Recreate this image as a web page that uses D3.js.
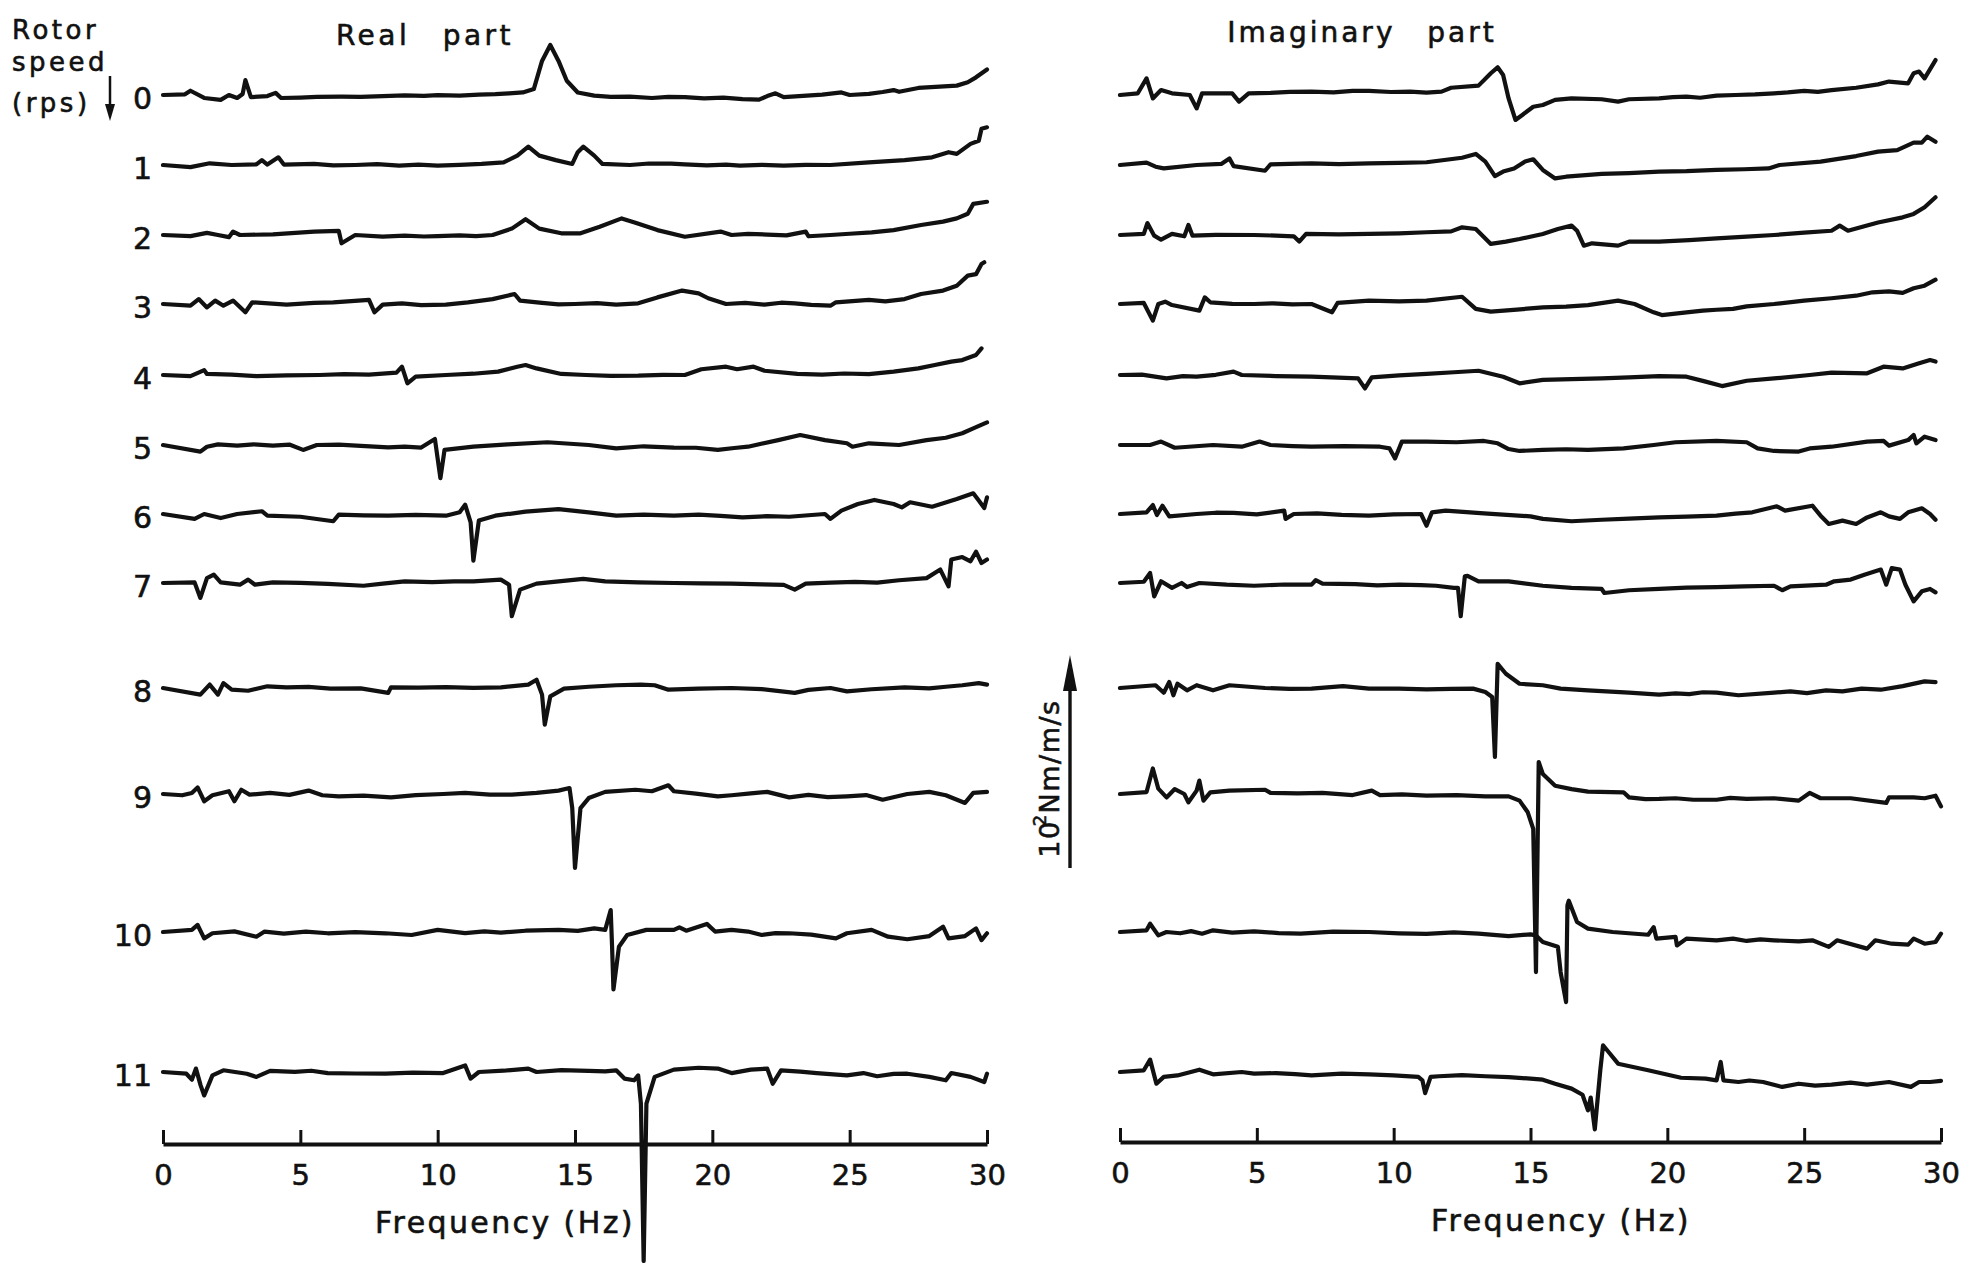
<!DOCTYPE html>
<html>
<head>
<meta charset="utf-8">
<script src="https://cdn.jsdelivr.net/npm/d3@7"></script>
<style>
  body { margin: 0; background: #fff; }
  svg text { font-family: 'DejaVu Sans', sans-serif; fill: #111; stroke: #111; stroke-width: 0.6px; }
</style>
</head>
<body>
<div id="chart"></div>
<script>
// rotor speeds (rps), one trace per speed in each panel
const speeds = [0, 1, 2, 3, 4, 5, 6, 7, 8, 9, 10, 11];
const freqTicks = [0, 5, 10, 15, 20, 25, 30];

// real part traces: [frequency Hz, value Nm/m/s]
const real0 = [[0,0],[0.8,0.3],[1.0,2],[1.5,-1.4],[2.1,-2.3],[2.4,0],[2.7,-1.4],[2.9,0.5],[3.0,7],[3.2,-1],[3.8,-0.5],[4.1,1],[4.3,-1.4],[5,-1.2],[5.6,-0.9],[6.5,-0.8],[7.2,-0.9],[8,-0.5],[8.8,-0.2],[9.5,-0.4],[10,-0.1],[10.8,-0.3],[11.5,0.2],[12.1,0.4],[12.6,0.8],[13.1,1.2],[13.5,2.8],[13.8,16],[14.1,23.5],[14.4,16],[14.7,6.7],[15.1,1.2],[15.7,-0.3],[16.3,-0.9],[17,-0.8],[17.8,-1.4],[18.4,-0.9],[19,-1],[19.7,-1.6],[20.4,-1.2],[21.1,-1.9],[21.7,-2.2],[22,-0.5],[22.3,0.8],[22.6,-1],[23.3,-0.4],[24,0.2],[24.7,1.2],[25,0],[25.7,0.5],[26.2,1.4],[26.6,2.3],[26.8,1.5],[27.5,3.3],[28.9,4.4],[29.3,6],[29.6,8.3],[30,12]];
const real1 = [[0,0],[1.0,-1],[1.7,0.8],[2.5,0],[3.4,0.3],[3.6,2.3],[3.8,0.2],[4.2,3.6],[4.4,0.2],[5.5,0.5],[6.2,-0.2],[7,0],[7.8,0.4],[8.6,-0.3],[9.3,0.2],[10,-0.3],[10.8,0.1],[11.6,0.5],[12.4,1.2],[12.9,4.4],[13.3,8.6],[13.7,4.4],[14.3,2.3],[14.9,0.5],[15.1,6],[15.3,8.6],[15.7,4.4],[16.0,0.5],[17,0],[17.7,0.7],[18.5,0.6],[19,0.3],[19.8,-0.2],[20.5,0.2],[21,-0.3],[21.8,0.1],[22.6,-0.3],[23.4,0.1],[24.3,0],[25.7,1.2],[27,2.3],[28,3.6],[28.6,6],[28.9,5.2],[29.4,9.9],[29.7,11.4],[29.8,17],[30,17.7]];
const real2 = [[0,0],[1.0,-0.5],[1.6,1],[2.0,0],[2.4,-1],[2.55,1.6],[2.8,0],[4,0.3],[5.5,1.6],[6.4,1.9],[6.5,-3.9],[7.0,0],[8,-0.8],[8.8,-0.3],[9.5,-0.7],[10,-0.5],[10.8,-0.2],[11.4,-0.5],[12,0],[12.7,3],[13.2,7.4],[13.7,3],[14.5,0.8],[15.2,0.8],[15.9,3.9],[16.7,7.8],[17.2,5.8],[18,2.3],[19,-0.8],[20.3,1.6],[20.7,0],[21.3,0.5],[22,0.2],[22.7,-0.2],[23.4,1.6],[23.5,-0.6],[24.3,0],[25,0.6],[25.8,1.2],[26.6,2.3],[27.6,4.7],[28.4,6.3],[28.9,7.8],[29.3,10],[29.5,14.6],[30,15.6]];
const real3 = [[0,0],[1.0,-0.8],[1.3,2.3],[1.6,-1.6],[1.9,1.6],[2.2,-0.8],[2.55,1.6],[3.0,-3.9],[3.25,0.8],[4.5,-0.3],[5.5,0.5],[6.2,0.8],[7.5,1.9],[7.7,-3.9],[8.0,-0.3],[8.7,0.3],[9.4,-0.5],[10.3,-0.3],[11.1,0.8],[12.0,2.3],[12.8,4.7],[13.0,1.6],[13.8,0.5],[14.4,-0.2],[15,0],[15.8,0.4],[16.5,-0.3],[17.3,0.3],[18,3.1],[18.9,6.3],[19.5,5],[19.85,2.7],[20.5,0],[21.2,0.5],[21.9,-0.3],[22.5,0.6],[23,0.3],[23.6,-0.4],[24.3,-0.8],[24.5,0.8],[25.7,1.9],[26.3,1.2],[27,2.3],[27.6,4.7],[28.4,6.3],[28.9,8.6],[29.3,13.3],[29.6,14],[29.8,18.8],[29.9,19.6]];
const real4 = [[0,0],[1.0,-0.5],[1.5,2.3],[1.6,0.5],[2.5,0.2],[3.4,-0.5],[4.5,-0.2],[5.7,0],[6.6,0.4],[7.5,0.2],[8.5,1.1],[8.7,3.9],[8.9,-3.9],[9.2,-0.8],[10.3,0],[11.3,0.6],[12.2,1.6],[12.9,3.9],[13.2,4.7],[13.6,3.1],[14.5,0.5],[15.4,0],[16.3,-0.4],[17.3,-0.3],[18.2,0.1],[19,0],[19.6,2.7],[20.5,3.9],[20.9,2.7],[21.5,3.9],[21.9,2],[23.1,0.5],[24,0.2],[24.8,0.7],[25.7,0.4],[26.6,1.6],[27.5,3.1],[28.1,4.7],[28.7,6.3],[29.1,7],[29.6,9.4],[29.8,12.5]];
const real5 = [[0,0],[1.36,-3.1],[1.6,-0.8],[2.0,0.3],[2.7,-0.3],[3.3,0.3],[4,-0.3],[4.6,0.2],[5.1,-2.3],[5.6,0],[6.4,0.2],[7.2,-0.4],[8.2,-1.1],[8.8,-0.8],[9.4,-1.2],[9.9,2.8],[10.1,-15.6],[10.25,-2.3],[11.3,-0.8],[12.55,0.3],[14.0,1.3],[15.5,0],[16.5,-1.6],[17.5,-0.6],[18.6,-1.2],[19.4,-1.3],[20.2,-2.3],[20.8,-1.4],[21.3,-0.8],[22.4,2.3],[23.2,4.7],[24.1,2.3],[24.9,0.8],[25.1,-0.8],[25.7,0.8],[26.8,0],[27.8,2.3],[28.5,3.4],[29.1,5.5],[29.5,7.8],[30,10.6]];
const real6 = [[0,0],[1.15,-2.3],[1.5,0],[2.1,-1.9],[2.7,0],[3.6,1.3],[3.8,-0.8],[5,-1.3],[6.2,-3.4],[6.4,-0.3],[7.3,-0.6],[8.2,-0.8],[9.2,-0.4],[10.3,-0.8],[10.8,0.8],[11.0,4.4],[11.2,-3.9],[11.3,-21.9],[11.5,-3.1],[12.1,-0.8],[13.2,1.1],[14.4,2.3],[15.5,0.8],[16.5,-0.8],[17.5,-0.3],[18.6,-0.8],[19.5,-0.3],[20.3,-0.9],[21.1,-1.6],[22,-1.0],[22.8,-1.3],[23.5,-0.6],[24.1,0],[24.3,-2.3],[24.7,1.6],[25.3,4.7],[25.9,6.6],[26.6,4.7],[26.9,3.1],[27.2,5.5],[28.0,3.4],[28.9,7],[29.5,9.7],[29.7,6.3],[29.9,2.8],[30,7.8]];
const real7 = [[0,0],[1.15,0.3],[1.36,-7],[1.6,2.3],[1.85,3.9],[2.1,0.3],[2.8,-0.8],[3.1,1.6],[3.35,-0.8],[4,0.3],[5,0.1],[6,-0.4],[7.3,-1.3],[8,-0.3],[8.8,0.8],[9.8,0.4],[10.6,0.8],[11.3,0.8],[12.3,1.6],[12.6,-0.8],[12.7,-15.6],[13.0,-3.1],[13.6,-0.3],[15.3,1.9],[16.1,0.8],[17.3,0.3],[18.6,0],[19.6,-0.2],[20.7,-0.3],[21.8,-0.6],[22.6,-0.9],[23.0,-3.1],[23.4,-0.3],[24.3,0.2],[25.2,0.5],[26,0.2],[26.8,1.3],[27.8,2.3],[28.3,6.3],[28.6,-1.6],[28.7,11],[29.1,12.2],[29.4,10.2],[29.6,14.7],[29.8,9.4],[30,11]];
const real8 = [[0,0],[1.36,-3.1],[1.7,1.6],[2.0,-3.1],[2.2,2.3],[2.5,-0.8],[3.1,-1.3],[3.8,0.8],[4.5,0.3],[5.3,0.5],[6.1,-0.3],[7.2,-0.2],[8.2,-2.3],[8.3,0.3],[9.3,0.2],[10.3,0.4],[11.3,0.1],[12.3,0.3],[13.3,1.6],[13.6,3.9],[13.8,-3.1],[13.9,-17.2],[14.1,-3.9],[14.6,-0.3],[15.5,0.6],[16.5,1.3],[17.4,1.6],[17.9,1.3],[18.4,-0.8],[19.5,-0.3],[20.7,0],[21.8,-0.5],[23.0,-2.3],[23.5,-0.9],[24.3,0],[24.9,-1.6],[25.8,-0.6],[27.0,0.3],[27.9,-0.2],[28.5,0.6],[29.1,1.3],[29.7,2.3],[30,1.6]];
const real9 = [[0,0],[0.7,-0.6],[1.05,0.5],[1.26,3.1],[1.5,-3.4],[1.8,-0.6],[2.4,1.3],[2.6,-3.4],[2.85,2],[3.15,-0.3],[3.9,0.5],[4.6,-0.4],[5.3,1.6],[5.8,-0.6],[6.4,-1.1],[7.3,-0.8],[8.3,-1.6],[9.2,-0.5],[10.2,0],[11,0.5],[11.9,-0.3],[12.7,-0.3],[13.6,0.5],[14.4,1.6],[14.8,2.8],[14.9,-6.6],[15.0,-34.7],[15.2,-6.6],[15.5,-1.9],[16.1,1],[17.2,2],[17.8,1.3],[18.4,4.1],[18.6,1.3],[19.4,0.2],[20.2,-1.1],[20.7,-0.6],[21.4,0.3],[22.0,1],[22.8,-1.6],[23.5,-0.4],[24.2,-1.5],[24.9,-1.1],[25.6,-0.5],[26.2,-2.7],[27.1,0],[27.9,1],[28.5,-0.6],[29.2,-4.2],[29.5,0.5],[30,1]];
const real10 = [[0,0],[1.05,1],[1.26,3.3],[1.5,-3],[1.8,-0.6],[2.6,0.3],[3.4,-2.2],[3.7,0.2],[4.4,-0.8],[5.2,0.2],[6.0,-0.6],[7,-0.1],[8.1,-0.6],[9.05,-1.4],[10.0,1],[11,-0.5],[11.7,0.3],[12.3,-0.3],[13.2,0.6],[14.4,1],[15.1,0.5],[15.7,1.7],[16.1,1],[16.3,10.3],[16.35,-6.9],[16.4,-27],[16.6,-6.9],[16.9,-1.4],[17.6,1],[18.6,1],[18.8,2.2],[19.05,0.6],[19.8,3.8],[20.1,0.2],[20.7,1],[21.3,0.2],[21.8,-1.4],[22.3,-0.5],[22.8,-0.6],[23.6,-1.2],[24.5,-3],[24.9,-0.6],[25.8,1],[26.4,-2.2],[27.1,-3.4],[27.9,-1.9],[28.4,2.5],[28.6,-3],[29.2,-1.9],[29.6,1.7],[29.8,-3.8],[30,-0.6]];
const real11 = [[0,0],[0.85,-0.8],[1.05,-3.6],[1.2,1.6],[1.37,-6.3],[1.5,-11],[1.8,-1.6],[2.2,0.8],[3.05,-0.8],[3.4,-2.3],[3.9,0.5],[4.8,0.1],[5.4,0.6],[6.0,-0.5],[7,-0.7],[8.1,-0.8],[9.1,-0.3],[10.2,-0.5],[11.0,3.1],[11.2,-3.1],[11.5,0],[12.4,0.6],[13.3,1.6],[13.6,0],[14.5,0.9],[15.5,0.5],[16.1,0.3],[16.5,0.8],[16.8,-3.1],[17.15,-3.9],[17.3,-1.6],[17.4,-14.9],[17.5,-88.7],[17.6,-14.9],[17.9,-2.3],[18.6,1.1],[19.5,2],[20.2,1.6],[20.7,-0.5],[21.4,1.1],[22.0,1.6],[22.2,-5.5],[22.5,0.8],[23.2,0.2],[23.8,-0.5],[24.9,-1.6],[25.5,-0.5],[26.0,-2],[26.6,-0.9],[27.1,-0.8],[27.9,-2.3],[28.5,-3.9],[28.7,-0.5],[29.4,-2.3],[29.9,-4.7],[30,-0.8]];

// imaginary part traces
const imag0 = [[0,0],[0.65,0.8],[0.97,7.8],[1.2,-1.6],[1.5,2.3],[1.9,0.8],[2.55,0],[2.8,-6.3],[3.0,0.8],[4.1,0.8],[4.35,-3.1],[4.7,0.8],[5.5,1],[6.2,1.5],[7.0,1.6],[7.8,1.2],[8.5,1.9],[9.1,1.9],[9.9,1.4],[10.6,1.6],[11.2,1.1],[11.75,1.6],[12.1,3.4],[13.1,4.4],[13.55,10.2],[13.8,13],[14.0,9.4],[14.2,-1.6],[14.45,-11.7],[14.7,-9.4],[15.1,-5.5],[15.45,-4.7],[15.9,-2.3],[16.5,-1.6],[17.6,-2],[18.2,-3.1],[18.6,-2],[19.7,-1.6],[20.2,-1.0],[20.7,-0.8],[21.2,-1.3],[21.8,-0.3],[22.5,0],[23.2,0.3],[23.9,0.8],[24.4,1.2],[25.0,1.9],[25.5,1.5],[26.0,2.3],[26.9,3.4],[27.7,5],[28.1,6.3],[28.8,5.5],[29.0,10.2],[29.2,11],[29.4,7.8],[29.8,16.4]];
const imag1 = [[0,0],[0.97,1.1],[1.3,-0.8],[1.6,-1.6],[2.8,0],[3.7,0.5],[4.0,3.1],[4.15,-0.5],[5.3,-2.7],[5.5,0.3],[6.2,0.5],[7.0,0.8],[8,0.4],[9.1,0.8],[10.2,1.0],[11.2,1.3],[12.5,3.4],[13.0,5.2],[13.35,1.6],[13.7,-5.2],[14.0,-3.1],[14.4,-1.6],[14.8,1.6],[15.1,2.7],[15.45,-2.3],[15.9,-6.3],[16.3,-5.5],[17.6,-4.2],[18.6,-3.8],[19.7,-3.1],[20.7,-2.9],[21.8,-2.3],[22.8,-2],[23.7,-1.6],[24.1,0],[25.6,1.6],[26.9,4.2],[27.7,6.3],[28.4,7],[29.0,10.5],[29.3,10.5],[29.5,13.3],[29.8,10.9]];
const imag2 = [[0,0],[0.87,0.5],[1.0,5.6],[1.25,-0.3],[1.5,-2.2],[1.9,0.5],[2.35,-0.6],[2.5,4.7],[2.65,-0.3],[3.5,0.1],[4.9,0],[5.7,-0.3],[6.35,-0.6],[6.55,-3.1],[6.8,0.5],[8,0.3],[9.1,0.5],[10.2,0.8],[11.2,1.3],[12.1,1.7],[12.5,3.6],[13.0,2.8],[13.55,-4.2],[14.1,-3.1],[14.6,-1.9],[15.45,0.5],[16.0,2.8],[16.5,4.4],[16.7,2],[16.95,-5],[17.25,-3.9],[18.2,-5],[18.6,-3.1],[19.7,-3.1],[20.8,-2.4],[21.8,-1.6],[22.9,-0.8],[23.9,0],[25,1.1],[26.0,2],[26.3,4.4],[26.6,2],[27.7,5.9],[28.6,8.3],[29.0,9.9],[29.4,13],[29.8,17.7]];
const imag3 = [[0,0],[0.87,0.5],[1.2,-7.8],[1.4,0],[1.65,1.1],[1.9,-0.5],[2.9,-3.1],[3.1,3.1],[3.3,0.8],[4.1,0.1],[4.9,0],[5.6,0.3],[6.3,-0.2],[7.0,0],[7.75,-3.9],[7.95,0.5],[9.1,1.6],[10.2,1.2],[11.2,1.6],[12.5,3.4],[13.0,-2.3],[13.55,-3.6],[14.5,-2.6],[15.45,-1.6],[16.3,-1.2],[17.1,-0.5],[18.2,1.6],[18.8,0],[19.5,-3.9],[19.8,-5.2],[20.7,-3.9],[21.3,-3.1],[21.8,-2.7],[22.4,-2.3],[22.9,-1.1],[23.9,0],[25.0,1.6],[26.0,2.7],[26.9,3.9],[27.5,5.5],[28.1,5.9],[28.6,5.2],[29.0,7.4],[29.4,8.6],[29.8,11.4]];
const imag4 = [[0,0],[0.8,0.2],[1.7,-1.6],[2.3,-0.5],[2.8,-0.8],[3.5,0.1],[4.15,1.6],[4.45,0],[5.7,-0.5],[7.0,-0.8],[8.7,-1.6],[8.95,-6.3],[9.2,-1.1],[10.2,-0.2],[11.2,0.5],[12.2,1.3],[13.1,2],[14.0,-0.8],[14.6,-3.9],[15.45,-2.3],[16.5,-1.9],[17.6,-1.6],[18.6,-1.1],[19.7,-0.5],[20.7,-0.8],[21.4,-3.1],[22.0,-5.2],[22.9,-2.7],[23.9,-1.6],[25.2,0],[26.0,1.1],[27.3,0.8],[27.9,3.9],[28.6,3.1],[29.2,5.5],[29.6,7],[29.8,6.3]];
const imag5 = [[0,0],[1.1,0],[1.5,1.6],[2.0,-1.3],[3.4,0],[4.45,-0.8],[5.1,1.6],[5.5,0],[6.3,-0.5],[7.0,-0.8],[8.2,-0.5],[9.5,-0.8],[9.85,-1.6],[10.05,-6.3],[10.3,1.6],[11.2,1.6],[12.3,1.3],[13.3,1.9],[13.8,0.8],[14.2,-1.9],[14.6,-2.8],[15.45,-2.3],[16.3,-2.0],[17.1,-2.3],[18.4,-1.6],[19.5,0],[20.3,1.3],[21.8,1.9],[22.9,1.3],[23.3,-1.6],[23.9,-2.8],[24.8,-3.1],[25.2,-1.6],[26.0,-0.8],[27.3,1.6],[27.9,1.9],[28.1,-0.3],[28.8,2.3],[29.0,4.7],[29.1,0.8],[29.4,3.9],[29.8,2.3]];
const imag6 = [[0,0],[0.97,0.8],[1.2,4.2],[1.35,-0.5],[1.55,3.9],[1.8,-1.1],[2.8,0],[3.5,0.6],[4.15,0.5],[5,-0.2],[6.0,1.6],[6.05,-2.3],[6.35,0],[7.2,0.3],[8.1,-0.4],[9.1,-0.8],[10,-0.2],[11.0,0],[11.2,-5.5],[11.4,0.8],[11.9,1.6],[13.3,0.3],[15.0,-1.1],[15.45,-2.3],[16.5,-3.4],[17.6,-2.7],[18.6,-2.2],[19.7,-1.6],[20.7,-1.2],[21.8,-0.8],[22.5,0.2],[23.1,0.8],[24.0,3.6],[24.3,1.6],[25.3,3.9],[25.6,-0.8],[25.9,-4.7],[26.4,-3.1],[26.9,-4.7],[27.3,-1.6],[27.8,0.8],[28.1,-1.1],[28.5,-2.3],[28.8,0.8],[29.3,2.7],[29.6,0],[29.8,-2.7]];
const imag7 = [[0,0],[0.87,0.6],[1.1,4.7],[1.25,-6.3],[1.5,0.8],[1.9,-2.3],[2.25,0],[2.45,-1.9],[2.9,0],[3.9,-0.8],[4.9,-1.3],[6,-0.7],[7.0,-0.8],[7.15,1.3],[7.4,-0.3],[8.6,-0.5],[9.4,-1.1],[10.2,-0.8],[11,-1.0],[11.55,-1.3],[12.2,-2.3],[12.35,-2.3],[12.45,-15.6],[12.6,3.1],[12.7,3.4],[13.1,0.8],[14.2,0.8],[15.45,-1.3],[16.5,-2.3],[17.6,-2.8],[17.7,-4.7],[18.6,-3.4],[19.7,-2.8],[20.7,-2.2],[21.8,-1.9],[22.8,-1.6],[23.9,-1.3],[24.2,-3.4],[24.5,-1.6],[25.8,-0.8],[26.1,0.8],[26.7,1.6],[27.2,3.9],[27.8,6.3],[28.0,-0.8],[28.2,7],[28.5,6.3],[28.7,-0.8],[29.0,-8.6],[29.3,-3.9],[29.6,-2.8],[29.8,-4.4]];
const imag8 = [[0,0],[1.3,1.3],[1.6,-2.2],[1.8,2.8],[1.95,-3.4],[2.1,2],[2.45,-1.1],[2.8,1.3],[3.4,-1.1],[4.0,1.3],[5.3,0],[6.2,-0.4],[7.0,-0.3],[8.15,0.9],[9.1,-0.3],[10.2,-0.3],[11.2,-0.6],[12.1,-0.4],[12.9,-0.3],[13.35,-1.9],[13.6,-4.2],[13.7,-32.4],[13.8,11.3],[14.1,6.7],[14.6,2],[15.45,1.3],[16.1,-0.3],[17.1,-1.1],[18.6,-2.2],[19.7,-3.1],[20.3,-2.5],[20.8,-2.9],[21.3,-2.0],[21.8,-2.2],[22.6,-3.4],[23.9,-2.2],[24.5,-1.6],[25.1,-2.4],[25.8,-1.1],[26.4,-1.6],[27.1,-0.3],[27.8,-0.8],[28.6,0.9],[29.4,3.1],[29.8,2.8]];
const imag9 = [[0,0],[0.97,0.9],[1.2,12],[1.4,2.5],[1.7,-1.6],[2.0,2.3],[2.35,0],[2.5,-3.9],[2.8,1.6],[2.9,6.3],[3.05,-3.1],[3.3,0.8],[4.0,1.6],[5.3,2],[5.5,0.5],[6.5,0.3],[7.4,0.5],[8.5,-0.5],[9.2,1.6],[9.5,-0.5],[10.3,-0.2],[11.2,-0.8],[12.3,-0.5],[13.35,-1.1],[14.2,-1.1],[14.6,-3.1],[14.9,-8.6],[15.1,-16.4],[15.2,-83.6],[15.3,15],[15.45,9.4],[15.9,3.9],[16.5,2.3],[17.1,1.1],[18.4,0.8],[18.6,-1.6],[19.2,-2.4],[19.7,-2.3],[20.3,-2.0],[20.95,-2.7],[21.8,-2.7],[22.3,-1.8],[22.9,-2.3],[23.9,-2],[24.8,-3.1],[25.2,0.5],[25.6,-2],[26.7,-2],[28.0,-4.2],[28.1,-1.6],[29.0,-1.6],[29.4,-2],[29.8,-0.8],[30,-5.8]];
const imag10 = [[0,0],[0.97,0.8],[1.1,3.9],[1.4,-1.6],[1.7,0],[2.2,-0.6],[2.6,0.4],[3.0,-0.8],[3.4,0.8],[4.1,-0.3],[4.9,0.3],[5.8,-0.5],[6.6,-0.8],[7.8,0.2],[9.1,0],[10.2,-0.6],[11.2,-0.9],[12.2,-0.2],[13.1,-0.8],[14.2,-1.9],[15.0,-1.1],[15.2,-1.6],[15.45,-4.7],[16.0,-6.9],[16.1,-18.8],[16.3,-32.9],[16.35,12.5],[16.4,14.7],[16.7,4.7],[17.1,1.6],[18.0,0],[19.3,-1.3],[19.5,2.3],[19.6,-3.1],[20.3,-2.3],[20.35,-6.3],[20.7,-3.1],[21.8,-3.9],[22.4,-3.1],[22.9,-4.2],[23.4,-3.5],[23.9,-3.9],[24.8,-4.4],[25.3,-3.9],[25.9,-7],[26.2,-3.9],[27.3,-7.8],[27.6,-3.9],[28.2,-5.5],[28.8,-5.9],[29.0,-3.1],[29.4,-5.5],[29.8,-4.7],[30,-0.8]];
const imag11 = [[0,0],[0.87,0.8],[1.1,5.8],[1.33,-5.5],[1.6,-2.3],[2.1,-1.6],[2.9,1.1],[3.4,-1.1],[4.45,0],[4.9,-0.8],[5.7,-0.5],[6.4,-1.0],[7.0,-1.6],[8.1,-0.8],[9.1,-1.1],[10.0,-1.6],[10.9,-2.3],[11.05,-3.9],[11.15,-9.9],[11.35,-2.3],[11.65,-2],[12.5,-1.5],[13.35,-2],[14.2,-2.4],[15.0,-3.1],[15.45,-3.6],[15.9,-5.5],[16.5,-7.8],[16.9,-10.7],[17.1,-18],[17.2,-12],[17.35,-26.9],[17.55,0.8],[17.65,12.5],[17.8,10.2],[18.2,3.9],[19.3,0.8],[20.5,-2.7],[21.4,-3.1],[21.8,-3.9],[21.95,4.7],[22.05,-3.9],[22.6,-4.7],[23.0,-4.0],[23.5,-4.7],[24.2,-7],[24.8,-5.5],[25.4,-6.4],[26.0,-5.9],[26.7,-5.0],[27.3,-5.9],[28.1,-4.7],[28.9,-7],[29.2,-4.7],[29.6,-4.7],[30,-4.2]];

const realTraces = [real0, real1, real2, real3, real4, real5, real6, real7, real8, real9, real10, real11];
const imagTraces = [imag0, imag1, imag2, imag3, imag4, imag5, imag6, imag7, imag8, imag9, imag10, imag11];

// scale bar: 10^2 Nm/m/s
const scaleBarValue = 100;

const width = 1987, height = 1263;

const svg = d3.select('#chart')
  .append('svg')
  .attr('width', width)
  .attr('height', height);

// x scales for the two panels
const xReal = d3.scaleLinear().domain([0, 30]).range([163, 987]);
const xImag = d3.scaleLinear().domain([0, 30]).range([1120, 1941]);
// amplitude -> pixel offset (up is positive)
const yAmp = d3.scaleLinear().domain([0, 100]).range([0, -213]);
// baseline of each rotor speed row (traces are stacked, gap widens from 8 rps)
const rowY = d3.scaleOrdinal().domain(speeds)
  .range([95, 165, 235, 304, 375, 445, 514, 583, 688, 794, 932, 1072]);

function drawPanel(traces, x, axisY, labelX) {
  const g = svg.append('g');
  speeds.forEach((s, i) => {
    const line = d3.line()
      .x(d => x(d[0]))
      .y(d => rowY(s) + yAmp(d[1]));
    g.append('path')
      .datum(traces[i])
      .attr('d', line)
      .attr('fill', 'none')
      .attr('stroke', '#111')
      .attr('stroke-width', 4.2)
      .attr('stroke-linejoin', 'round')
      .attr('stroke-linecap', 'round');
  });

  const axis = svg.append('g')
    .attr('transform', `translate(0,${axisY})`)
    .call(d3.axisBottom(x).tickValues(freqTicks)
      .tickSizeInner(-14).tickSizeOuter(0).tickPadding(20));
  axis.select('.domain').attr('stroke', '#111').attr('stroke-width', 4);
  axis.selectAll('.tick line').attr('stroke', '#111').attr('stroke-width', 3);
  axis.selectAll('.tick text').attr('font-size', 29).attr('fill', '#111');

  svg.append('text')
    .attr('x', labelX)
    .attr('y', axisY + 89)
    .attr('text-anchor', 'middle')
    .attr('font-size', 30)
    .attr('letter-spacing', 2.4)
    .text('Frequency (Hz)');
}

drawPanel(realTraces, xReal, 1144, 505);
drawPanel(imagTraces, xImag, 1142, 1561);

// row labels
svg.append('g').selectAll('text')
  .data(speeds)
  .enter().append('text')
    .attr('x', 152)
    .attr('y', s => rowY(s) + 3)
    .attr('text-anchor', 'end')
    .attr('dominant-baseline', 'central')
    .attr('font-size', 30)
    .text(s => s);

// panel titles
svg.append('text')
  .attr('x', 425).attr('y', 45)
  .attr('text-anchor', 'middle')
  .attr('font-size', 28)
  .attr('letter-spacing', 3.5)
  .attr('word-spacing', 20)
  .text('Real part');
svg.append('text')
  .attr('x', 1362).attr('y', 42)
  .attr('text-anchor', 'middle')
  .attr('font-size', 28)
  .attr('letter-spacing', 3)
  .attr('word-spacing', 20)
  .text('Imaginary part');

// rotor speed heading
[['Rotor', 39], ['speed', 71], ['(rps)', 112]].forEach(([t, y]) => {
  svg.append('text').attr('x', 12).attr('y', y)
    .attr('font-size', 26).attr('letter-spacing', 3.5).text(t);
});
svg.append('line')
  .attr('x1', 110).attr('x2', 110).attr('y1', 76).attr('y2', 108)
  .attr('stroke', '#111').attr('stroke-width', 2.5);
svg.append('path')
  .attr('d', 'M105,104 L115,104 L110,121 Z')
  .attr('fill', '#111');

// amplitude scale bar
const barX = 1070, barBottom = 868;
const barTop = barBottom + yAmp(scaleBarValue);
svg.append('line')
  .attr('x1', barX).attr('x2', barX)
  .attr('y1', barBottom).attr('y2', barTop + 30)
  .attr('stroke', '#111').attr('stroke-width', 3.4);
svg.append('path')
  .attr('d', `M${barX},${barTop} L${barX - 7},${barTop + 36} L${barX + 7},${barTop + 36} Z`)
  .attr('fill', '#111');
const barLabel = svg.append('text')
  .attr('transform', `translate(${barX - 11},${(barTop + barBottom) / 2 + 17}) rotate(-90)`)
  .attr('text-anchor', 'middle')
  .attr('font-size', 27)
  .attr('letter-spacing', 1.5);
barLabel.append('tspan').text('10');
barLabel.append('tspan').attr('font-size', 18).attr('dy', -13).attr('dx', -6).text('2');
barLabel.append('tspan').attr('dy', 13).text('Nm/m/s');
</script>
</body>
</html>
